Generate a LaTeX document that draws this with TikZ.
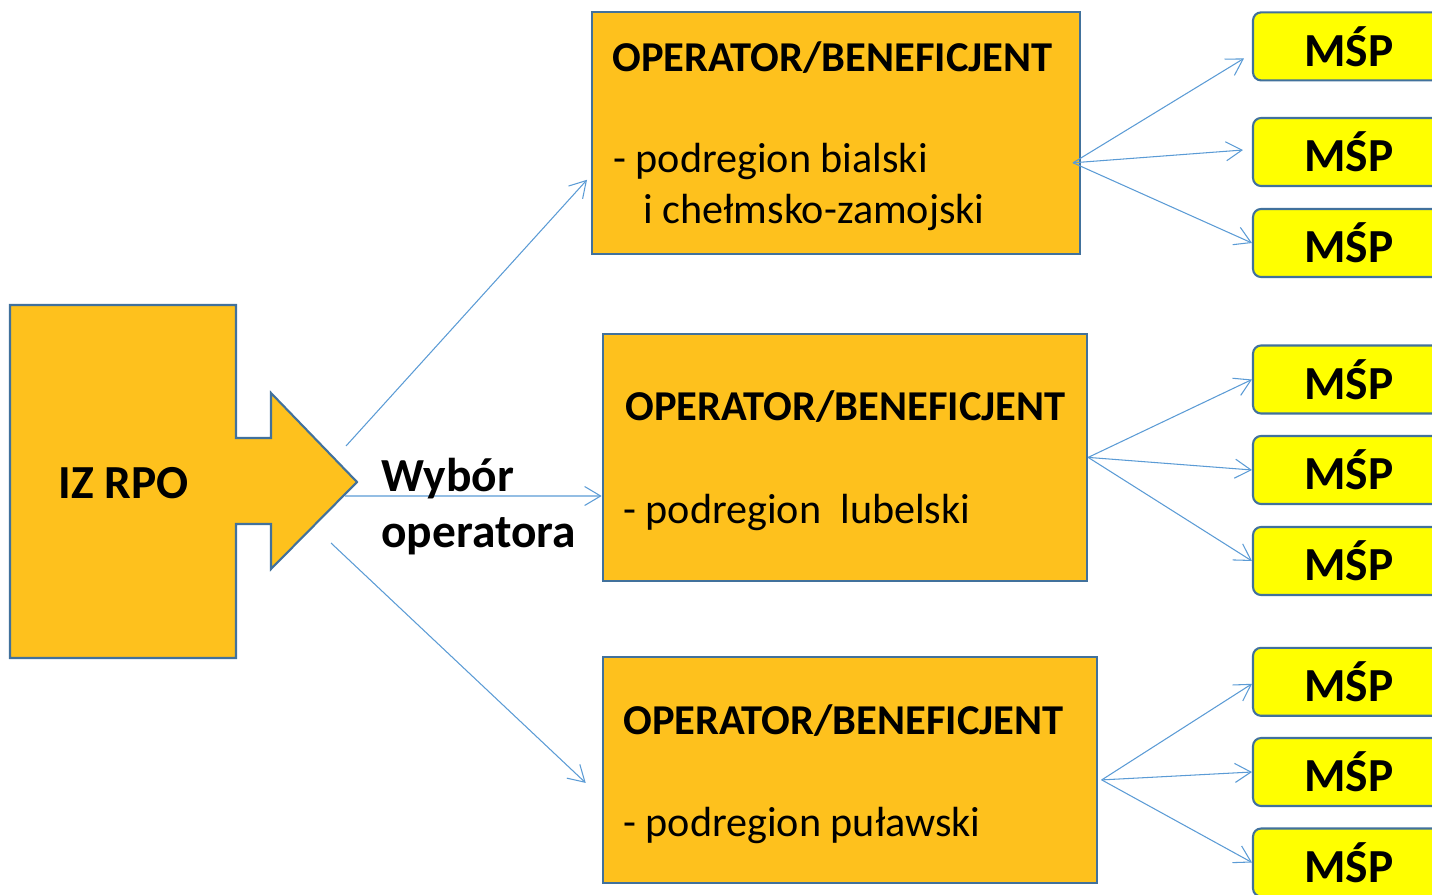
\documentclass[tikz,border=0pt]{standalone}
\usepackage{fontspec}
\setmainfont{Carlito}
\usetikzlibrary{arrows.meta}
\definecolor{opfill}{RGB}{254,193,29}
\definecolor{edgeblue}{RGB}{65,113,156}
\definecolor{linkblue}{RGB}{91,155,213}
\definecolor{mspfill}{RGB}{255,255,0}

\begin{document}
\begin{tikzpicture}[x=0.02cm, y=-0.02cm,
        opbox/.style={draw=edgeblue, line width=1.2pt, fill=opfill, inner sep=0pt},
        mspbox/.style={draw=edgeblue, line width=1.2pt, fill=mspfill, rounded corners=0.16cm,
            minimum width=3.84cm, minimum height=1.36cm, inner sep=0pt,
            font=\fontsize{27}{32}\selectfont\bfseries},
        link/.style={draw=linkblue, line width=0.6pt, -{Straight Barb[length=3.2mm,width=3.8mm]}},
        head/.style={anchor=base west, inner sep=0pt, font=\fontsize{24.2}{29}\selectfont\bfseries},
        sub/.style={anchor=base west, inner sep=0pt, font=\fontsize{24}{29}\selectfont},
        big/.style={anchor=base west, inner sep=0pt, font=\fontsize{27}{32}\selectfont\bfseries}]
        \useasboundingbox (0,0) rectangle (1432,895);

        % IZ RPO
        \draw [edgeblue, line width=1.2pt, fill=opfill] (10,305) -- (236,305) -- (236,438) -- (271,438)
            -- (271,393) -- (357,482) -- (271,569) -- (271,524) -- (236,524) -- (236,658) -- (10,658) -- cycle;
        \node [big] (iz) at (58,498) {IZ RPO};
        \coordinate (s1) at (346,446);
        \coordinate (s2) at (345,496);
        \coordinate (s3) at (331,543);

        % Operators
        \node [opbox, minimum width=9.76cm, minimum height=4.85cm] (op1) at (836,132.8) {};
        \node [opbox, minimum width=9.69cm, minimum height=4.93cm] (op2) at (844.9,457.4) {};
        \node [opbox, minimum width=9.88cm, minimum height=4.53cm] (op3) at (849.7,769.9) {};

        % MSP boxes
        \node [mspbox] (m1) at (1349,46.4) {MŚP};
        \node [mspbox] (m2) at (1349,152) {MŚP};
        \node [mspbox] (m3) at (1349,243) {MŚP};
        \node [mspbox] (m4) at (1349,379.5) {MŚP};
        \node [mspbox] (m5) at (1349,470) {MŚP};
        \node [mspbox] (m6) at (1349,561) {MŚP};
        \node [mspbox] (m7) at (1349,681.8) {MŚP};
        \node [mspbox] (m8) at (1349,772) {MŚP};
        \node [mspbox] (m9) at (1349,862.5) {MŚP};

        % Wybor operatora
        \draw [link] (s1) -- ([shift={(-4,47)}]op1.west);
        \draw [link] (s2) -- ([shift={(0,38.6)}]op2.west);
        \draw [link] (s3) -- ([shift={(-16,13)}]op3.west);
        \node [big] (wyb) at (381,491) {Wybór};
        \node [big] (ope) at (381,547) {operatora};

        % Operator 1
        \coordinate (o1) at ([shift={(-8,30)}]op1.east);
        \draw [link] (o1) -- ([shift={(-8,12)}]m1.west);
        \draw [link] (o1) -- ([shift={(-9,-2)}]m2.west);
        \draw [link] (o1) -- (m3.west);
        \node [head] (h1) at (612,72) {OPERATOR/BENEFICJENT};
        \node [sub] (d1) at (613,173) {- podregion bialski};
        \node [sub] (d1b) at (643,223) {i chełmsko-zamojski};

        % Operator 2
        \coordinate (o2) at (op2.east);
        \draw [link] (o2) -- (m4.west);
        \draw [link] (o2) -- (m5.west);
        \draw [link] (o2) -- (m6.west);
        \node [head] (h2) at (625,420) {OPERATOR/BENEFICJENT};
        \node [sub] (d2) at (623,523) {- podregion\ \ lubelski};

        % Operator 3
        \coordinate (o3) at ([shift={(4,10)}]op3.east);
        \draw [link] (o3) -- ([shift={(0,2)}]m7.west);
        \draw [link] (o3) -- (m8.west);
        \draw [link] (o3) -- (m9.west);
        \node [head] (h3) at (623,734) {OPERATOR/BENEFICJENT};
        \node [sub] (d3) at (623,836) {- podregion puławski};

\end{tikzpicture}
\end{document}
